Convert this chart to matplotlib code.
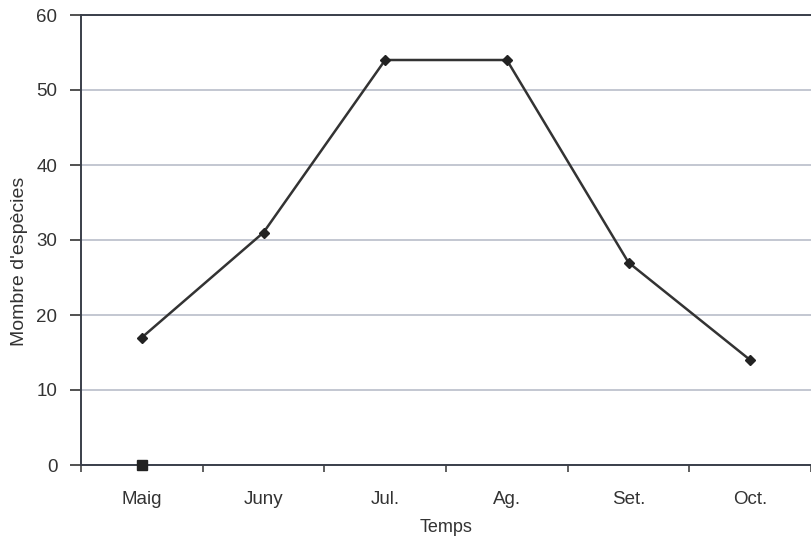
import numpy as np
import matplotlib
matplotlib.use("Agg")
import matplotlib.pyplot as plt

mesos = ["Maig", "Juny", "Jul.", "Ag.", "Set.", "Oct."]
especies = [17, 31, 54, 54, 27, 14]
mesos_quadrat = ["Maig"]
valors_quadrat = [0]

plt.rcParams["font.family"] = ["Liberation Sans", "DejaVu Sans"]

fig = plt.figure(figsize=(8.11, 5.38), dpi=100)
ax = fig.add_axes([81 / 811, (538 - 465) / 538, (811 - 81) / 811, (465 - 15) / 538])

x = np.arange(len(mesos))
ax.plot(x, especies, color="#333333", linewidth=1.8, marker="D", markersize=5,
        markerfacecolor="#222222", markeredgecolor="#222222", zorder=3)
xq = [mesos.index(m) for m in mesos_quadrat]
ax.plot(xq, valors_quadrat, linestyle="none", marker="s", markersize=7,
        color="#222222", zorder=4, clip_on=False)

ax.set_ylim(0, 60)
ax.set_yticks(range(0, 61, 10))
ax.set_xlim(-0.5, 5.48)
ax.set_xticks(x)
ax.set_xticklabels(mesos)
ax.set_xticks(np.arange(-0.5, 6, 1), minor=True)
ax.tick_params(axis="x", which="major", length=0, pad=18.5, labelsize=13.5, colors="#333333")
ax.tick_params(axis="x", which="minor", length=5, width=1.2, direction="out", color="#444444")
ax.tick_params(axis="y", length=8, width=1.2, direction="out", pad=9, labelsize=13.5,
               colors="#333333")

ax.grid(axis="y", color="#b9bdca", linewidth=1.2)
ax.set_axisbelow(True)

for side in ["left", "bottom", "top"]:
    ax.spines[side].set_color("#3a3f4a")
    ax.spines[side].set_linewidth(1.4)
ax.spines["right"].set_visible(False)

ax.set_xlabel("Temps", fontsize=13, color="#333333", labelpad=8.5)
ax.set_ylabel("Mombre d'espècies", fontsize=14, color="#333333")
ax.yaxis.set_label_coords(-0.073, 0.453)

fig.savefig("out.png", dpi=100)
plt.close(fig)
